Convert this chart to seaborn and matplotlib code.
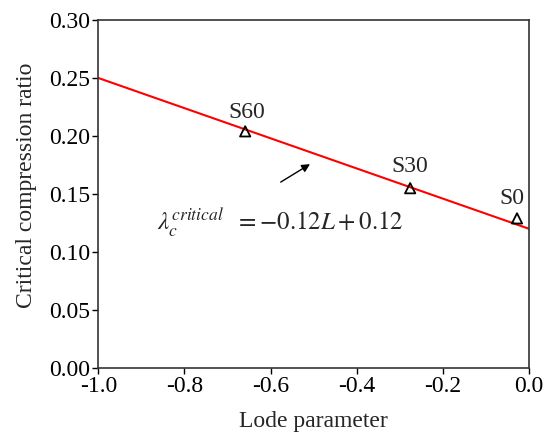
import matplotlib
matplotlib.use("Agg")
import matplotlib.pyplot as plt
import seaborn as sns
import pandas as pd
import numpy as np

specimens = ["S60", "S30", "S0"]
lode = [-0.659, -0.276, -0.028]
ratio = [0.204, 0.155, 0.129]
fit_x = [-1.0, 0.0]
fit_y = [0.25, 0.12]
xticks = [-1.0, -0.8, -0.6, -0.4, -0.2, 0.0]
yticks = [0.00, 0.05, 0.10, 0.15, 0.20, 0.25, 0.30]

sns.set_theme(style="ticks")
plt.rcParams['font.family'] = ['Liberation Serif', 'DejaVu Serif']
plt.rcParams['mathtext.fontset'] = 'stix'
plt.rcParams['axes.unicode_minus'] = False

fig, ax = plt.subplots(figsize=(5.46, 4.34), dpi=100)
fig.subplots_adjust(left=0.18, right=0.969, top=0.954, bottom=0.152)

sns.lineplot(x=fit_x, y=fit_y, color="red", linewidth=1.5, ax=ax)
df = pd.DataFrame({"L": lode, "r": ratio, "s": specimens})
sns.scatterplot(data=df, x="L", y="r", marker="^", s=55, facecolor="none",
                edgecolor="black", linewidth=1.3, ax=ax, zorder=3)

offsets = {"S60": (0.004, 0.0165), "S30": (0.0, 0.0185), "S0": (-0.012, 0.0175)}
for name, x, y in zip(specimens, lode, ratio):
    dx, dy = offsets[name]
    ax.text(x + dx, y + dy, name, ha="center", va="center", fontsize=17)

ax.annotate("", xy=(-0.503, 0.177), xytext=(-0.582, 0.159),
            arrowprops=dict(arrowstyle="-|>", color="black", lw=1.0, mutation_scale=12))
ax.text(-0.864, 0.125, r"$\lambda_c^{critical}\ \ = -0.12L + 0.12$", fontsize=18,
        ha="left", va="center")

ax.set_xlim(-1.0, 0.0)
ax.set_ylim(0.0, 0.30)
ax.set_xticks(xticks)
ax.set_yticks(yticks)
ax.set_xticklabels([f"{t:.1f}" for t in xticks])
ax.set_yticklabels([f"{t:.2f}" for t in yticks])
ax.tick_params(labelsize=17, direction="out", length=4, width=1, colors="black", pad=2)
ax.set_xlabel("Lode parameter", fontsize=17, labelpad=10)
ax.set_ylabel("Critical compression ratio", fontsize=17)
ax.yaxis.set_label_coords(-0.142, 0.526)
for sp in ax.spines.values():
    sp.set_color("#333333")
    sp.set_linewidth(1.2)

fig.savefig("out.png", dpi=100)
